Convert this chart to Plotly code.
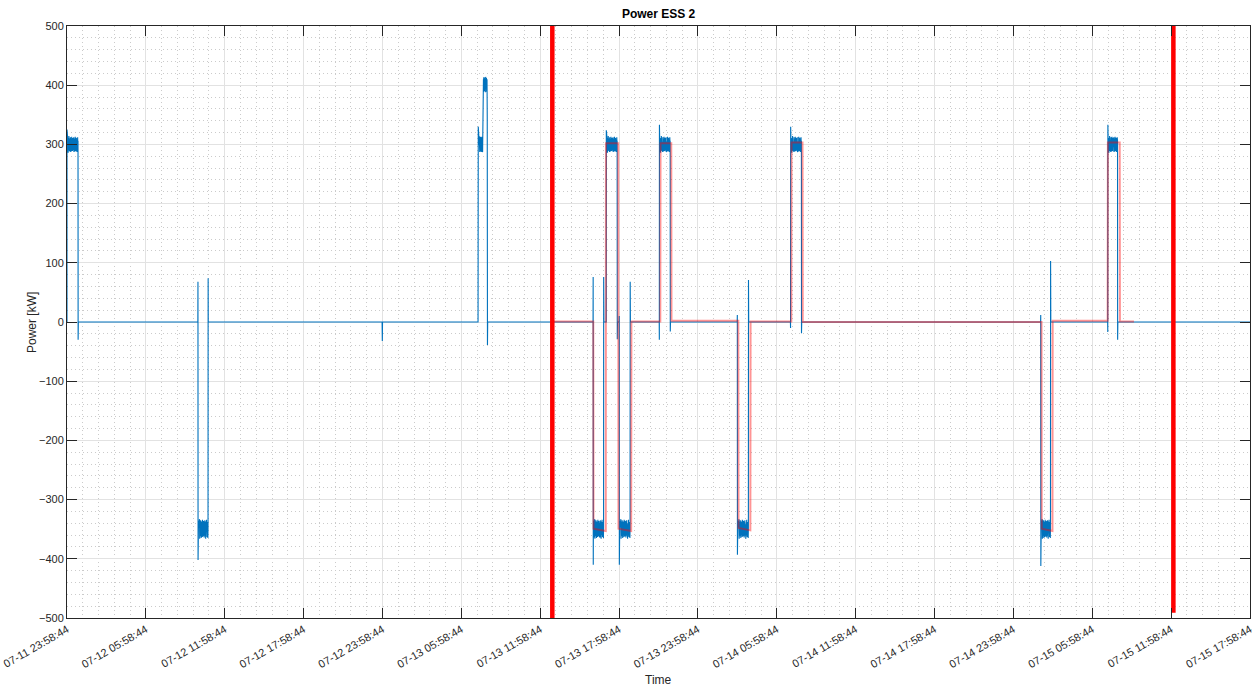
import plotly.graph_objects as go
from datetime import datetime

YEAR = "2023-"

# ---------------- data ----------------
# measured power (skeleton: steps and spikes), time "MM-DD HH:MM:SS"
blue_times = [
    "07-11 23:58:44", "07-11 23:58:50",
    "07-12 00:49:30", "07-12 00:50:30",
    "07-12 09:56:00", "07-12 09:56:30", "07-12 09:57:00",
    "07-12 10:43:00", "07-12 10:43:30",
    "07-12 23:57:00", "07-12 23:58:00", "07-12 23:59:00",
    "07-13 07:15:00", "07-13 07:16:00",
    "07-13 07:57:00", "07-13 07:58:00", "07-13 07:59:00",
    "07-13 16:00:00", "07-13 16:00:30", "07-13 16:01:00",
    "07-13 16:48:30", "07-13 16:49:30",
    "07-13 17:00:00", "07-13 17:00:30",
    "07-13 17:50:30", "07-13 17:51:30",
    "07-13 17:59:00", "07-13 17:59:30", "07-13 18:00:00",
    "07-13 18:49:30", "07-13 18:50:30",
    "07-13 21:02:00", "07-13 21:02:30", "07-13 21:03:00",
    "07-13 21:52:30", "07-13 21:53:30",
    "07-14 02:58:00", "07-14 02:58:30", "07-14 02:59:00",
    "07-14 03:49:30", "07-14 03:50:30",
    "07-14 07:01:00", "07-14 07:01:30", "07-14 07:02:00",
    "07-14 07:51:30", "07-14 07:52:30",
    "07-15 02:03:00", "07-15 02:03:30", "07-15 02:04:00",
    "07-15 02:48:30", "07-15 02:49:30",
    "07-15 07:09:00", "07-15 07:09:30", "07-15 07:10:00",
    "07-15 07:54:30", "07-15 07:55:30",
    "07-15 17:58:44",
]
blue_values = [
    0, 325,
    -30, 0,
    0, 68, -402,
    74, 0,
    0, -32, 0,
    0, 330,
    346, -39, 0,
    0, 76, -410,
    76, 0,
    0, 324,
    -29, 0,
    0, 10, -410,
    68, 0,
    0, -30, 333,
    -16, 0,
    0, 12, -393,
    71, 0,
    0, -10, 330,
    -19, 0,
    0, 12, -412,
    103, 0,
    0, -17, 333,
    -30, 0,
    0,
]

# noisy plateaus (start, end, which noise list)
block_starts = [
    "07-11 23:59:00", "07-12 09:57:30", "07-13 07:16:30", "07-13 07:39:00",
    "07-13 16:01:30", "07-13 17:01:00", "07-13 18:00:30", "07-13 21:03:30",
    "07-14 02:59:30", "07-14 07:02:30", "07-15 02:04:30", "07-15 07:10:30",
]
block_ends = [
    "07-12 00:49:00", "07-12 10:42:30", "07-13 07:38:00", "07-13 07:56:00",
    "07-13 16:48:00", "07-13 17:50:00", "07-13 18:49:00", "07-13 21:52:00",
    "07-14 03:49:00", "07-14 07:51:00", "07-15 02:48:00", "07-15 07:54:00",
]
block_kinds = ["pos", "neg", "pos", "high", "neg", "pos", "neg", "pos", "neg", "pos", "neg", "pos"]

pos_noise = [296, 309, 288, 312, 293, 305, 286, 311, 299, 290, 314, 294, 307, 289, 310,
             297, 303, 287, 312, 292, 306, 295, 309, 288, 301, 313, 291, 304, 298, 289,
             311, 295, 306, 290, 308, 293, 312, 287, 303, 297, 310, 291, 305, 288, 313,
             294, 302, 289, 309, 296, 311, 290, 304, 287, 308, 299, 292, 312, 295, 306]
neg_noise = [-342, -358, -336, -364, -347, -339, -361, -351, -333, -366, -344, -355, -338,
             -362, -349, -335, -359, -345, -365, -340, -353, -337, -360, -348, -343, -363,
             -334, -356, -350, -341, -362, -346, -336, -358, -352, -339, -364, -344, -355,
             -347, -335, -361, -340, -357, -349, -366, -337, -353, -343, -360, -334, -356,
             -345, -363, -338, -351, -359, -341, -365, -348]
high_noise = [396, 410, 389, 413, 401, 392, 408, 395, 412, 390, 404, 399, 411, 393,
              407, 388, 402, 414, 394, 405, 391, 409, 397, 412, 389, 403, 396, 410]

# setpoint (thin red)
red_times = [
    "07-13 12:54:00", "07-13 16:01:00", "07-13 16:02:00", "07-13 16:58:00",
    "07-13 16:59:00", "07-13 17:55:00", "07-13 17:56:00", "07-13 18:54:00",
    "07-13 18:55:00", "07-13 21:07:00", "07-13 21:08:00", "07-13 21:57:00",
    "07-13 21:58:00", "07-14 03:03:00", "07-14 03:04:00", "07-14 03:58:00",
    "07-14 03:59:00", "07-14 07:05:00", "07-14 07:06:00", "07-14 07:56:00",
    "07-14 07:57:00", "07-15 02:07:00", "07-15 02:08:00", "07-15 02:57:00",
    "07-15 02:58:00", "07-15 07:09:00", "07-15 07:10:00", "07-15 08:04:00",
    "07-15 08:05:00", "07-15 09:09:00",
]
red_values = [
    1, 1, -349, -353,
    302, 302, -349, -353,
    1, 1, 302, 302,
    2, 2, -348, -352,
    1, 1, 303, 303,
    0, 0, -349, -353,
    2, 2, 303, 303,
    1, 1,
]

# thick red markers
marker_times = ["07-13 12:54:00", "07-15 12:09:00"]
marker_bottom = [-500, -491]
marker_top = [500, 500]

x_start = "07-11 23:58:44"
x_end = "07-15 17:58:44"

# ---------------- build ----------------
def dt(s):
    return datetime.strptime(YEAR + s, "%Y-%m-%d %H:%M:%S")

noise_map = {"pos": pos_noise, "neg": neg_noise, "high": high_noise}
pts = [(dt(t), v) for t, v in zip(blue_times, blue_values)]
for s, e, k in zip(block_starts, block_ends, block_kinds):
    vals = noise_map[k]
    t0, t1 = dt(s), dt(e)
    n = len(vals)
    for i, v in enumerate(vals):
        pts.append((t0 + (t1 - t0) * i / (n - 1), v))
pts.sort(key=lambda p: p[0])
bx = [p[0] for p in pts]
by = [p[1] for p in pts]

FONT = "Liberation Sans, Arial"

fig = go.Figure()
fig.add_trace(go.Scatter(x=bx, y=by, mode="lines",
                         line=dict(color="#0072BD", width=1.1), showlegend=False))
fig.add_trace(go.Scatter(x=[dt(t) for t in red_times], y=red_values, mode="lines",
                         line=dict(color="rgba(255,0,0,0.42)", width=2), showlegend=False))
for t, b, tp in zip(marker_times, marker_bottom, marker_top):
    fig.add_trace(go.Scatter(x=[dt(t), dt(t)], y=[b, tp], mode="lines",
                             line=dict(color="#FF0000", width=4.5), showlegend=False))

axis_common = dict(
    showline=True, linecolor="#262626", linewidth=1, mirror="ticks",
    ticks="inside", ticklen=10, tickcolor="#262626", tickwidth=1,
    showgrid=True, gridcolor="#e2e2e2", gridwidth=1, zeroline=False,
    tickfont=dict(family=FONT, size=11, color="#262626"),
)

fig.update_xaxes(
    type="date", range=[dt(x_start), dt(x_end)],
    tick0=dt(x_start), dtick=6 * 3600 * 1000, tickformat="%m-%d %H:%M:%S",
    tickangle=-30,
    minor=dict(dtick=72 * 60 * 1000, tick0=dt(x_start), showgrid=True,
               gridcolor="#cbcbcb", griddash="1px,3px", gridwidth=1),
    **axis_common,
)
fig.update_yaxes(
    range=[-500, 500], tick0=0, dtick=100,
    minor=dict(dtick=20, tick0=0, showgrid=True, gridcolor="#cbcbcb",
               griddash="1px,3px", gridwidth=1),
    **axis_common,
)

fig.update_layout(
    width=1258, height=686,
    margin=dict(l=67, r=8, t=26, b=68, autoexpand=False),
    paper_bgcolor="white", plot_bgcolor="white",
    title=dict(text="<b>Power ESS 2</b>", x=0.5235, xanchor="center",
               y=1 - 14 / 686, yanchor="middle", yref="container",
               font=dict(family=FONT, size=12, color="black")),
    annotations=[
        dict(text="Power [kW]", xref="paper", yref="paper", x=-0.0296, y=0.5,
             xanchor="center", yanchor="middle", textangle=-90, showarrow=False,
             font=dict(family=FONT, size=12, color="#262626")),
        dict(text="Time", xref="paper", yref="paper", x=0.5, y=-0.1047,
             xanchor="center", yanchor="middle", showarrow=False,
             font=dict(family=FONT, size=12, color="#262626")),
    ],
)

fig.write_html("out.html")
